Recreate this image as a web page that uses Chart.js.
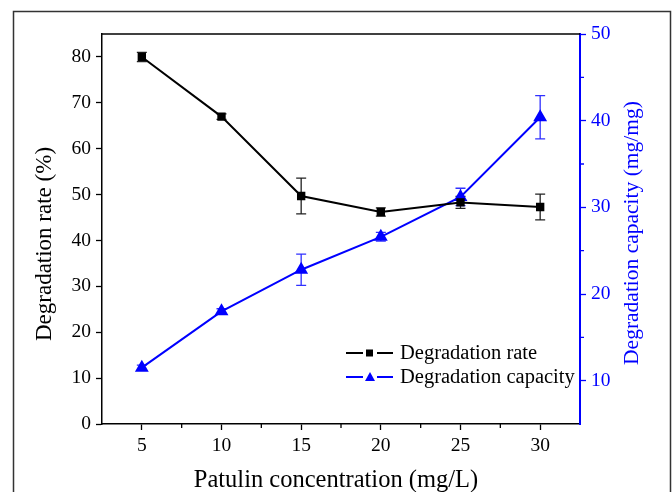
<!DOCTYPE html>
<html><head><meta charset="utf-8">
<script src="https://cdn.jsdelivr.net/npm/chart.js@4.4.0/dist/chart.umd.min.js"></script>
<style>html,body{margin:0;padding:0;background:#fff}#wrap{width:672px;height:492px}</style>
</head><body><div id="wrap"><canvas id="c" width="672" height="492"></canvas></div>
<script>
const concentrations = [5, 10, 15, 20, 25, 30];
const degradationRate = [80.0, 67.0, 49.7, 46.2, 48.3, 47.3];
const degradationRateErr = [1.0, 0.6, 3.9, 0.9, 1.3, 2.8];
const degradationCapacity = [11.5, 18.0, 22.8, 26.6, 31.2, 40.4];
const degradationCapacityErr = [0.3, 0.3, 1.8, 0.5, 1.0, 2.5];
const xTicks = [5, 10, 15, 20, 25, 30];
const xMinorTicks = [7.5, 12.5, 17.5, 22.5, 27.5];
const yLeftTicks = [0, 10, 20, 30, 40, 50, 60, 70, 80];
const yRightTicks = [10, 20, 30, 40, 50];
const yRightMinorTicks = [15, 25, 35, 45];

const FONT = "'Liberation Serif', 'Times New Roman', serif";
const BLUE = '#0000ff';

const errs = [degradationRateErr, degradationCapacityErr];

const extras = {
  id: 'extras',
  beforeDraw(chart) {
    const ctx = chart.ctx;
    ctx.save();
    ctx.fillStyle = '#fff';
    ctx.fillRect(0, 0, chart.width, chart.height);
    ctx.strokeStyle = '#333';
    ctx.lineWidth = 1.5;
    ctx.strokeRect(13.5, 11.5, 657, 500);
    ctx.restore();
  },
  beforeDatasetsDraw(chart) {
    const ctx = chart.ctx;
    ctx.save();
    chart.data.datasets.forEach((ds, i) => {
      const ys = chart.scales[ds.yAxisID];
      const xs = chart.scales.x;
      ctx.strokeStyle = i === 0 ? '#222' : '#3030ff';
      ctx.lineWidth = 1.3;
      ds.data.forEach((p, j) => {
        const e = errs[i][j];
        const px = xs.getPixelForValue(p.x);
        const top = ys.getPixelForValue(p.y + e);
        const bot = ys.getPixelForValue(p.y - e);
        ctx.beginPath();
        ctx.moveTo(px, top); ctx.lineTo(px, bot);
        ctx.moveTo(px - 5, top); ctx.lineTo(px + 5, top);
        ctx.moveTo(px - 5, bot); ctx.lineTo(px + 5, bot);
        ctx.stroke();
      });
    });
    ctx.restore();
  },
  afterDraw(chart) {
    const ctx = chart.ctx;
    const a = chart.chartArea;
    const xs = chart.scales.x, yr = chart.scales.y1;
    ctx.save();
    ctx.strokeStyle = '#000';
    ctx.lineWidth = 1.5;
    ctx.beginPath(); ctx.moveTo(a.left, a.top); ctx.lineTo(a.right, a.top); ctx.stroke();
    ctx.lineWidth = 1.3;
    ctx.beginPath();
    xMinorTicks.forEach(v => { const px = xs.getPixelForValue(v); ctx.moveTo(px, a.bottom); ctx.lineTo(px, a.bottom + 4); });
    ctx.stroke();
    ctx.strokeStyle = BLUE;
    ctx.beginPath();
    yRightMinorTicks.forEach(v => { const py = yr.getPixelForValue(v); ctx.moveTo(a.right, py); ctx.lineTo(a.right + 4, py); });
    ctx.stroke();
    ctx.fillStyle = '#000';
    ctx.textAlign = 'center'; ctx.textBaseline = 'middle';
    ctx.font = '24.5px ' + FONT;
    ctx.fillText('Patulin concentration (mg/L)', 336, 481);
    ctx.font = '23px ' + FONT;
    ctx.save();
    ctx.translate(45, 244); ctx.rotate(-Math.PI / 2);
    ctx.fillText('Degradation rate (%)', 0, 0);
    ctx.restore();
    ctx.font = '21.5px ' + FONT;
    ctx.save();
    ctx.fillStyle = BLUE;
    ctx.translate(632, 233); ctx.rotate(-Math.PI / 2);
    ctx.fillText('Degradation capacity (mg/mg)', 0, 0);
    ctx.restore();
    const rows = [
      {label: 'Degradation rate', color: '#000', style: 'rect', y: 353},
      {label: 'Degradation capacity', color: BLUE, style: 'tri', y: 377}
    ];
    ctx.font = '20.5px ' + FONT;
    ctx.textAlign = 'left';
    rows.forEach(r => {
      ctx.strokeStyle = r.color; ctx.fillStyle = r.color; ctx.lineWidth = 2;
      ctx.beginPath(); ctx.moveTo(346, r.y); ctx.lineTo(363, r.y); ctx.moveTo(377, r.y); ctx.lineTo(393, r.y); ctx.stroke();
      if (r.style === 'rect') ctx.fillRect(366, r.y - 3.5, 7, 7);
      else { ctx.beginPath(); ctx.moveTo(370, r.y - 5); ctx.lineTo(375, r.y + 4); ctx.lineTo(365, r.y + 4); ctx.closePath(); ctx.fill(); }
      ctx.fillStyle = '#000';
      ctx.fillText(r.label, 400, r.y + 1);
    });
    ctx.restore();
  }
};

new Chart(document.getElementById('c'), {
  type: 'line',
  data: {
    datasets: [
      {
        label: 'Degradation rate',
        data: concentrations.map((x, i) => ({x, y: degradationRate[i]})),
        yAxisID: 'y',
        borderColor: '#000', backgroundColor: '#000',
        borderWidth: 2, pointStyle: 'rect', pointRadius: 4.5,
        pointBorderColor: '#000', pointBackgroundColor: '#000', tension: 0
      },
      {
        label: 'Degradation capacity',
        data: concentrations.map((x, i) => ({x, y: degradationCapacity[i]})),
        yAxisID: 'y1',
        borderColor: BLUE, backgroundColor: BLUE,
        borderWidth: 2, pointStyle: 'triangle', pointRadius: 6,
        pointBorderColor: BLUE, pointBackgroundColor: BLUE, tension: 0
      }
    ]
  },
  options: {
    responsive: false, animation: false,
    layout: {padding: {top: 34, left: 0, right: 0, bottom: 0}},
    plugins: {legend: {display: false}, tooltip: {enabled: false}},
    scales: {
      x: {
        type: 'linear', min: 2.5, max: 32.5,
        afterBuildTicks: s => { s.ticks = xTicks.map(v => ({value: v})); },
        afterFit: s => { s.height = 68; },
        grid: {drawOnChartArea: false, drawTicks: true, tickLength: 6, tickColor: '#000', tickWidth: 1.3},
        border: {color: '#000', width: 1.5},
        ticks: {color: '#000', font: {family: FONT, size: 19.5}, padding: 4, maxRotation: 0}
      },
      y: {
        position: 'left', min: 0, max: 85,
        afterBuildTicks: s => { s.ticks = yLeftTicks.map(v => ({value: v})); },
        afterFit: s => { s.width = 102; },
        grid: {drawOnChartArea: false, drawTicks: true, tickLength: 6, tickColor: '#000', tickWidth: 1.3},
        border: {color: '#000', width: 1.5},
        ticks: {color: '#000', font: {family: FONT, size: 19.5}, padding: 5}
      },
      y1: {
        position: 'right', min: 5, max: 50,
        afterBuildTicks: s => { s.ticks = yRightTicks.map(v => ({value: v})); },
        afterFit: s => { s.width = 92; },
        grid: {drawOnChartArea: false, drawTicks: true, tickLength: 6, tickColor: BLUE, tickWidth: 1.3},
        border: {color: BLUE, width: 2},
        ticks: {color: BLUE, font: {family: FONT, size: 19.5}, padding: 5}
      }
    }
  },
  plugins: [extras]
});
</script>
</body></html>
